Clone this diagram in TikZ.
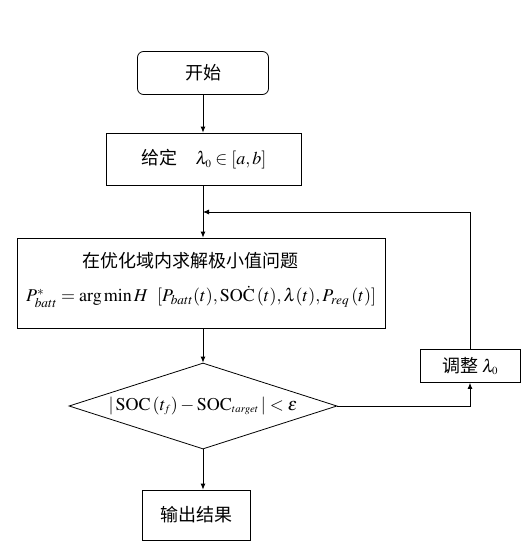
\documentclass[tikz,border=0pt]{standalone}
\usepackage{mathptmx}
\usepackage{fontspec}
\setmainfont{Liberation Serif}
\newfontfamily\cjk{Noto Sans CJK SC}
\usetikzlibrary{shapes.geometric,arrows.meta}
\begin{document}
\begin{tikzpicture}[x=1pt,y=-1pt,
  box/.style={draw,line width=0.8pt,inner sep=0pt,font=\fontsize{18}{21}\selectfont},
  txt/.style={font=\fontsize{18}{21}\selectfont,inner sep=0pt},
  arr/.style={-{Latex[length=6pt,width=5pt]},line width=0.8pt}]
\useasboundingbox (0,0) rectangle (529,555);
\node[box,rounded corners=6pt,minimum width=131pt,minimum height=43pt] (start) at (203,73) {\cjk 开始};
\node[box,minimum width=195pt,minimum height=52pt] (given) at (204,159) {\cjk 给定\quad\normalfont$\lambda_{\scriptscriptstyle 0}\in[a,b]$};
\node[box,minimum width=368pt,minimum height=90pt] (main) at (201,283) {};
\node[txt] (mt1) at (190,261) {\cjk 在优化域内求解极小值问题};
\node[txt] (mt2) at (201,297) {$P^{*}_{batt}=\arg\min H\ \ [P_{batt}(t),\mathrm{SO\dot{C}}\,(t),\lambda(t),P_{req}\,(t)]$};
\node[draw,line width=0.8pt,diamond,minimum width=268pt,minimum height=86pt,inner sep=0pt] (dia) at (203,406) {};
\node[txt] (diat) at (203,406) {$|\,\mathrm{SOC}\,(t_{\scriptscriptstyle f})-\mathrm{SOC}_{\scriptscriptstyle target}\,|<\varepsilon$};
\node[box,minimum width=108pt,minimum height=50pt] (out) at (196,515) {\cjk 输出结果};
\node[box,minimum width=100pt,minimum height=33pt] (adj) at (470,366) {\cjk 调整\ \normalfont$\lambda_{\scriptscriptstyle 0}$};
\coordinate (fb) at (203,212);
\draw[arr] (start.south) -- (start.south |- given.north);
\draw[arr] (given.south -| start.south) -- (start.south |- main.north);
\draw[arr] (main.south -| start.south) -- (dia.north);
\draw[arr] (dia.south) -- (dia.south |- out.north);
\draw[arr] (dia.east) -| (adj.south);
\draw[arr] (adj.north) |- (fb);
\end{tikzpicture}
\end{document}
